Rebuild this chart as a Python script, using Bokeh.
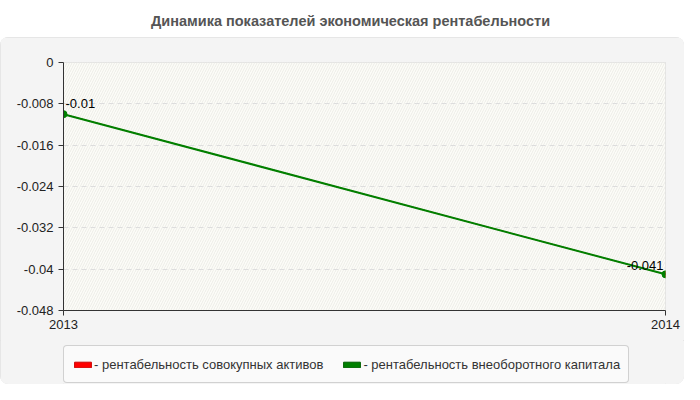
from bokeh.plotting import figure
from bokeh.layouts import column
from bokeh.models import (ColumnDataSource, BoxAnnotation, Label, Legend, LegendItem,
                          FixedTicker, Range1d)
from bokeh.core.properties import value
from bokeh.embed import file_html
from bokeh.resources import INLINE

# ---------------- data ----------------
title_text = "Динамика показателей экономическая рентабельности"
years = [2013, 2014]
x_tick_labels = ["2013", "2014"]
series_names = ["- рентабельность совокупных активов",
                "- рентабельность внеоборотного капитала"]
assets_values = [-0.01, -0.041]        # red series (hidden beneath the green one)
noncurrent_values = [-0.01, -0.041]    # green series
y_ticks = [0, -0.008, -0.016, -0.024, -0.032, -0.04, -0.048]
y_tick_labels = ["0", "-0.008", "-0.016", "-0.024", "-0.032", "-0.04", "-0.048"]
point_labels = [str(v) for v in noncurrent_values]

FONT = "Liberation Sans"
RED = "#ff0000"
GREEN = "#008000"
PANEL = "#f4f4f4"
W = 684
BL, BR = 63, 19   # left / right borders shared by all three strips

# ---------------- title strip ----------------
t = figure(width=W, height=37, output_backend="svg", toolbar_location=None,
           x_axis_type=None, y_axis_type=None,
           min_border_left=BL, min_border_right=BR, min_border_top=0, min_border_bottom=0,
           x_range=Range1d(0, 1), y_range=Range1d(0, 1),
           border_fill_color="white", background_fill_color="white",
           outline_line_color=None)
t.grid.visible = False
t.add_layout(Label(x=350 - BL, y=17, x_units="screen", y_units="screen", text=title_text,
                   text_align="center", text_baseline="middle", text_font=FONT,
                   text_font_style="bold", text_font_size="14.5px", text_color="#555555"))

# ---------------- main chart ----------------
p = figure(width=W, height=303, output_backend="svg", toolbar_location=None,
           x_range=Range1d(years[0], years[-1]),
           y_range=Range1d(y_ticks[-1], y_ticks[0]),
           min_border_left=BL, min_border_right=BR, min_border_top=25, min_border_bottom=30,
           border_fill_color=PANEL, background_fill_color="#fcfcf8",
           outline_line_color="#dddddd")

# hatched plot background
p.add_layout(BoxAnnotation(left=years[0], right=years[-1], top=y_ticks[0], bottom=y_ticks[-1],
                           fill_color="#fcfcf8", fill_alpha=1.0, line_color=None,
                           hatch_pattern="/", hatch_color="#edede7", hatch_scale=5,
                           hatch_weight=1, level="image"))

# axes
p.xaxis.ticker = FixedTicker(ticks=years)
p.xaxis.major_label_overrides = dict(zip(years, x_tick_labels))
p.yaxis.ticker = FixedTicker(ticks=y_ticks)
p.yaxis.major_label_overrides = dict(zip(y_ticks, y_tick_labels))
for ax in (p.xaxis[0], p.yaxis[0]):
    ax.axis_line_color = "#333333"
    ax.major_tick_line_color = "#333333"
    ax.major_tick_out = 5
    ax.major_tick_in = 0
    ax.minor_tick_line_color = None
    ax.major_label_text_font = FONT
    ax.major_label_text_font_size = "13px"
    ax.major_label_text_color = "#222222"
p.yaxis.major_label_standoff = 5
p.xaxis.major_label_standoff = 4

p.xgrid.visible = False
p.ygrid.grid_line_color = "#dddddd"
p.ygrid.grid_line_dash = "5 4"

# series (red one is fully covered by the green one, as in the original)
src_red = ColumnDataSource(dict(x=years, y=assets_values))
src_green = ColumnDataSource(dict(x=years, y=noncurrent_values))
p.line("x", "y", source=src_red, line_color=RED, line_width=1)
p.scatter("x", "y", source=src_red, size=5, color=RED)
p.line("x", "y", source=src_green, line_color=GREEN, line_width=2)
p.scatter("x", "y", source=src_green, size=7, color=GREEN)

# data labels
p.text(x=[years[0]], y=[noncurrent_values[0]], text=[point_labels[0]],
       text_font=value(FONT), text_font_size="13px", text_color="#000000",
       text_align="left", text_baseline="alphabetic", x_offset=2, y_offset=-11)
p.text(x=[years[1]], y=[noncurrent_values[1]], text=[point_labels[1]],
       text_font=value(FONT), text_font_size="13px", text_color="#000000",
       text_align="right", text_baseline="alphabetic", x_offset=-2, y_offset=-9)

# ---------------- legend strip ----------------
lf = figure(width=W, height=44, output_backend="svg", toolbar_location=None,
            x_axis_type=None, y_axis_type=None,
            min_border_left=BL, min_border_right=BR, min_border_top=0, min_border_bottom=0,
            x_range=Range1d(0, 1), y_range=Range1d(0, 1),
            border_fill_color=PANEL, background_fill_color=PANEL,
            outline_line_color=None)
lf.grid.visible = False
nan = float("nan")
sw_red = lf.quad(left=[nan], right=[nan], top=[nan], bottom=[nan],
                 fill_color=RED, line_color="#cc0000")
sw_green = lf.quad(left=[nan], right=[nan], top=[nan], bottom=[nan],
                   fill_color=GREEN, line_color="#006000")

legend_kw = dict(items=[LegendItem(label=series_names[0], renderers=[sw_red]),
                        LegendItem(label=series_names[1], renderers=[sw_green])],
                 orientation="horizontal", location=(0, 1), margin=0,
                 padding=8, spacing=18, label_standoff=1,
                 glyph_width=21, glyph_height=7, label_height=20,
                 label_text_font=FONT, label_text_font_size="13px",
                 label_text_color="#333333",
                 background_fill_color="#fafafa", background_fill_alpha=1.0,
                 border_line_color="#a8a8a8", border_line_width=1)
if "border_radius" in Legend.properties():
    legend_kw["border_radius"] = 4
lf.add_layout(Legend(**legend_kw), "center")

panel = column(p, lf, spacing=0,
               styles={"border-radius": "8px", "overflow": "hidden",
                       "background-color": PANEL,
                       "outline": "1px solid #e2e2e2", "outline-offset": "-1px"})
layout = column(t, panel, spacing=0)
open("out.html", "w").write(file_html(layout, INLINE))
